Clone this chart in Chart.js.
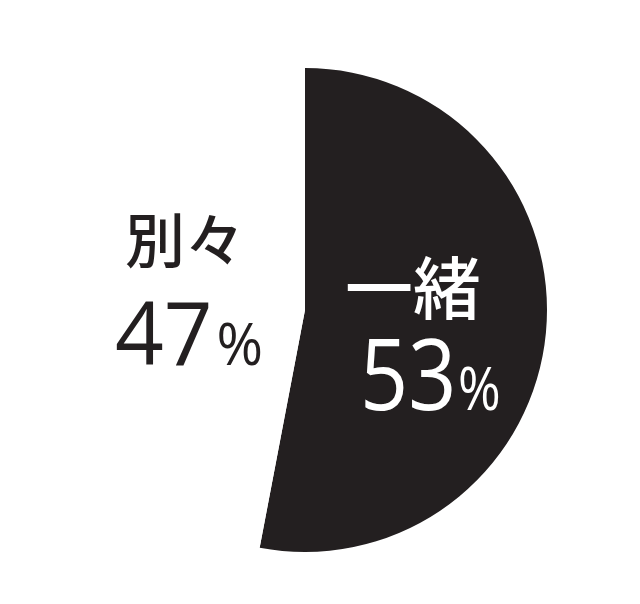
<!DOCTYPE html>
<html>
<head>
<meta charset="utf-8">
<script src="https://cdn.jsdelivr.net/npm/chart.js@4"></script>
<style>
  html, body { margin: 0; padding: 0; background: #fff; }
  #wrap { width: 640px; height: 604px; }
</style>
</head>
<body>
<div id="wrap"><canvas id="pieChart"></canvas></div>
<script>
// data
const labels = ['一緒', '別々'];
const values = [53, 47];
const sliceColors = ['#231f20', '#ffffff'];

// draws "一緒 53%" style labels, positions relative to the pie centre
const labelPlugin = {
    id: 'pieLabels',
    afterDatasetsDraw(chart) {
        const ctx = chart.ctx;
        const arcs = chart.getDatasetMeta(0).data;
        const cx = arcs[0].x, cy = arcs[0].y;
        const place = [
            { color: '#ffffff', name: [108, -22], num: [55, 100], nameSize: 68, numSize: 98, pctSize: 60, sx: 0.86, gap: 2 },
            { color: '#231f20', name: [-120, -70], num: [-190, 55], nameSize: 60, numSize: 88, pctSize: 58, sx: 0.97, gap: 4 }
        ];
        ctx.save();
        labels.forEach((label, i) => {
            const p = place[i];
            ctx.fillStyle = p.color;
            ctx.textAlign = 'center';
            ctx.textBaseline = 'middle';
            ctx.font = `500 ${p.nameSize}px "Noto Sans CJK JP"`;
            ctx.fillText(label, cx + p.name[0], cy + p.name[1]);

            // numbers are a bit narrower than Open Sans, squeeze horizontally
            ctx.save();
            ctx.translate(cx + p.num[0], cy + p.num[1]);
            ctx.scale(p.sx, 1);
            ctx.textAlign = 'left';
            ctx.textBaseline = 'alphabetic';
            ctx.font = `400 ${p.numSize}px "Open Sans"`;
            const num = String(values[i]);
            ctx.fillText(num, 0, 0);
            const w = ctx.measureText(num).width;
            ctx.font = `400 ${p.pctSize}px "Open Sans"`;
            ctx.fillText('%', w + p.gap, 0);
            ctx.restore();
        });
        ctx.restore();
    }
};

let canvas = document.getElementById('pieChart').getContext('2d');
let pieChart = new Chart(canvas, {
    type: 'pie',
    data: {
        labels,
        datasets: [{
            data: values,
            backgroundColor: sliceColors,
            borderWidth: 0
        }]
    },
    options: {
        responsive: true,
        maintainAspectRatio: false,
        animation: false,
        layout: { padding: { left: 63, right: 93, top: 68, bottom: 52 } },
        plugins: {
            legend: { display: false },
            tooltip: { enabled: false }
        }
    },
    plugins: [labelPlugin]
});
</script>
</body>
</html>
